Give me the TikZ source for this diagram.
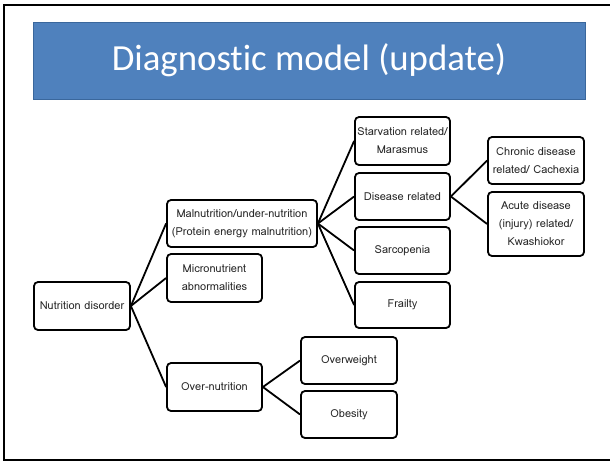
\documentclass[tikz,border=0pt]{standalone}
\usepackage{fontspec}
\newfontfamily\titlefont[Ligatures={NoCommon}]{Carlito}
\newfontfamily\boxfont{Loma}
\definecolor{titleblue}{HTML}{4F81BD}
\definecolor{titleedge}{HTML}{3A679C}
\definecolor{boxtext}{HTML}{262626}
\begin{document}
\begin{tikzpicture}[x=1pt,y=-1pt,
  item/.style={draw=black, line width=1.8pt, rounded corners=4pt, fill=white,
    align=center, text=boxtext, inner sep=0pt,
    font=\boxfont\fontsize{11}{18}\selectfont},
  link/.style={draw=black, line width=1.8pt}]
\useasboundingbox (0,0) rectangle (610,461);
% page frame: left, top and bottom rules
\draw[line width=2pt] (610,4.5) -- (3.5,4.5) -- (3.5,459.5) -- (610,459.5);
% title banner
\node[fill=titleblue, draw=titleedge, line width=0.8pt, minimum width=552pt,
  minimum height=77pt, inner sep=0pt, text=white,
  font=\titlefont\fontsize{36.8}{40}\selectfont] (title) at (309,60.5) {Diagnostic model (update)};
% tree nodes
\node[item, minimum width=96pt, minimum height=48pt] (nd) at (82,306) {Nutrition disorder};
\node[item, minimum width=150pt, minimum height=47pt] (mal) at (242,223.5) {Malnutrition/under-nutrition\\(Protein energy malnutrition)};
\node[item, minimum width=95pt, minimum height=48pt] (mic) at (214.5,278) {Micronutrient\\abnormalities};
\node[item, minimum width=95pt, minimum height=48pt] (over) at (214.5,387) {Over-nutrition};
\node[item, minimum width=95pt, minimum height=48pt] (starv) at (402.5,141) {Starvation related/\\Marasmus};
\node[item, minimum width=95pt, minimum height=47pt] (dis) at (402.5,196.5) {Disease related};
\node[item, minimum width=95pt, minimum height=47pt] (sarc) at (402.5,250.5) {Sarcopenia};
\node[item, minimum width=95pt, minimum height=46pt] (frail) at (402.5,305) {Frailty};
\node[item, minimum width=96pt, minimum height=47pt] (chron) at (536,160.5) {Chronic disease\\related/ Cachexia};
\node[item, minimum width=96pt, minimum height=64pt] (acute) at (536,224) {Acute disease\\(injury) related/\\Kwashiokor};
\node[item, minimum width=96pt, minimum height=47pt] (ow) at (349,360.5) {Overweight};
\node[item, minimum width=96pt, minimum height=47pt] (ob) at (349,414.5) {Obesity};
% connectors
\foreach \c in {mal,mic,over} \draw[link] (nd.east) -- (\c.west);
\foreach \c in {starv,dis,sarc,frail} \draw[link] (mal.east) -- (\c.west);
\foreach \c in {chron,acute} \draw[link] (dis.east) -- (\c.west);
\foreach \c in {ow,ob} \draw[link] (over.east) -- (\c.west);
\end{tikzpicture}
\end{document}
